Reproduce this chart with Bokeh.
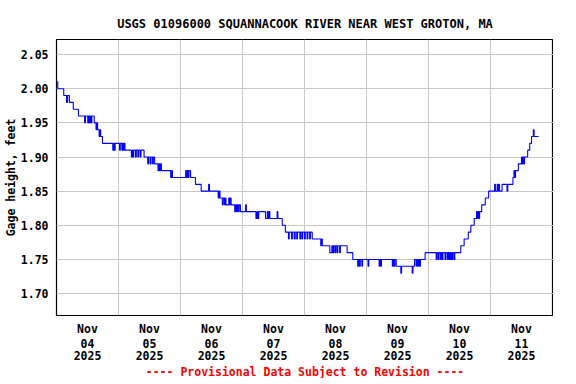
from bokeh.plotting import figure
from bokeh.models import FixedTicker, Title, NumeralTickFormatter, LinearAxis
from bokeh.embed import file_html
from bokeh.resources import INLINE

# Hours since 2025-11-04 00:00 at which the recorded gage height changes (step data)
hours = [
    0.0, 0.5, 2.8, 3.9, 4.3, 5.0, 6.5, 8.5,
    10.9, 11.2, 12.1, 12.4, 12.8, 13.1, 13.4, 13.7, 14.6, 15.3, 15.6, 15.9, 16.5, 16.8, 17.1, 17.8,
    21.8, 22.2, 22.4, 22.7, 24.4, 24.7, 25.3, 25.6, 25.9, 26.2, 26.5,
    29.0, 29.4, 29.6, 29.9, 30.6, 30.9, 31.5, 31.8, 32.4, 32.7, 33.9,
    35.3, 35.6, 36.2, 36.6, 37.2, 37.5, 38.0,
    39.3, 39.6, 39.9, 40.3, 40.6, 44.2, 44.6, 44.9,
    50.0, 50.3, 50.6, 51.0, 51.3, 51.9, 53.8, 56.0, 58.9, 59.2,
    62.6, 63.0, 63.3, 64.2, 64.5, 65.0, 65.3, 65.6, 66.7, 67.0, 67.3, 67.6,
    69.0, 69.3, 69.7, 70.0, 70.4, 70.7, 71.2, 73.2, 73.5,
    77.2, 77.6, 77.9, 78.3, 80.9, 81.6, 82.0, 82.3, 82.6, 85.4, 85.7, 87.4, 88.6,
    89.8, 90.1, 91.0, 91.3, 92.0, 92.4, 93.0, 93.3, 94.2, 94.5, 95.0, 95.3, 96.0, 96.3,
    97.0, 97.3, 98.0, 98.3, 99.0,
    102.3, 102.6, 102.9, 105.8, 106.6, 107.0, 107.3, 107.8, 108.1, 108.6, 108.9, 109.6, 109.9,
    112.5, 114.7, 116.6, 116.9, 117.3, 117.6, 118.2, 118.5, 120.6, 120.9,
    124.9, 125.2, 125.5, 125.8, 130.0, 130.3, 130.7, 131.0, 131.5,
    133.3, 133.6, 137.7, 138.0, 138.6, 139.2, 139.5, 139.9, 140.2, 140.6, 140.9, 142.7,
    147.0, 147.3, 147.8, 148.1, 148.7, 149.0, 149.3, 149.6, 150.4, 150.7, 151.3, 151.6,
    152.0, 152.3, 152.6, 152.9, 153.1, 153.4, 153.9, 154.2,
    156.5, 157.8, 159.4, 160.4, 161.7, 162.6, 162.9, 163.2, 163.5, 163.8, 164.6, 166.0, 167.3,
    169.6, 169.9, 170.6, 170.9, 171.2, 171.5, 172.5, 174.4, 174.7,
    176.7, 177.1, 177.4, 177.7, 178.8, 180.0, 180.3, 180.6, 180.9, 181.2,
    182.4, 183.2, 183.9, 184.6, 184.9, 186.6,
]
gage_ft = [
    2.01, 2.00, 1.99, 1.98, 1.99, 1.98, 1.97, 1.96,
    1.95, 1.96, 1.95, 1.96, 1.95, 1.96, 1.95, 1.96, 1.95, 1.94, 1.95, 1.94, 1.93, 1.94, 1.93, 1.92,
    1.91, 1.92, 1.91, 1.92, 1.91, 1.92, 1.91, 1.92, 1.91, 1.92, 1.91,
    1.90, 1.91, 1.90, 1.91, 1.90, 1.91, 1.90, 1.91, 1.90, 1.91, 1.90,
    1.89, 1.90, 1.89, 1.90, 1.89, 1.90, 1.89,
    1.88, 1.89, 1.88, 1.89, 1.88, 1.87, 1.88, 1.87,
    1.88, 1.87, 1.88, 1.87, 1.88, 1.87, 1.86, 1.85, 1.86, 1.85,
    1.84, 1.85, 1.84, 1.83, 1.84, 1.83, 1.84, 1.83, 1.84, 1.83, 1.84, 1.83,
    1.82, 1.83, 1.82, 1.83, 1.82, 1.83, 1.82, 1.83, 1.82,
    1.81, 1.82, 1.81, 1.82, 1.81, 1.82, 1.81, 1.82, 1.81, 1.82, 1.81, 1.80, 1.79,
    1.78, 1.79, 1.78, 1.79, 1.78, 1.79, 1.78, 1.79, 1.78, 1.79, 1.78, 1.79, 1.78, 1.79,
    1.78, 1.79, 1.78, 1.79, 1.78,
    1.77, 1.78, 1.77, 1.76, 1.77, 1.76, 1.77, 1.76, 1.77, 1.76, 1.77, 1.76, 1.77,
    1.76, 1.75, 1.74, 1.75, 1.74, 1.75, 1.74, 1.75, 1.74, 1.75,
    1.74, 1.75, 1.74, 1.75, 1.74, 1.75, 1.74, 1.75, 1.74,
    1.73, 1.74, 1.73, 1.74, 1.75, 1.74, 1.75, 1.74, 1.75, 1.74, 1.75, 1.76,
    1.75, 1.76, 1.75, 1.76, 1.75, 1.76, 1.75, 1.76, 1.75, 1.76, 1.75, 1.76,
    1.75, 1.76, 1.75, 1.76, 1.75, 1.76, 1.75, 1.76,
    1.77, 1.78, 1.79, 1.80, 1.81, 1.82, 1.81, 1.82, 1.81, 1.82, 1.83, 1.84, 1.85,
    1.86, 1.85, 1.86, 1.85, 1.86, 1.85, 1.86, 1.85, 1.86,
    1.87, 1.88, 1.87, 1.88, 1.89, 1.90, 1.89, 1.90, 1.89, 1.90,
    1.91, 1.92, 1.93, 1.94, 1.93, 1.93,
]

x_tick_hours = [12, 36, 60, 84, 108, 132, 156, 180]
x_tick_month = ["Nov", "Nov", "Nov", "Nov", "Nov", "Nov", "Nov", "Nov"]
x_tick_day = ["04", "05", "06", "07", "08", "09", "10", "11"]
x_tick_year = ["2025", "2025", "2025", "2025", "2025", "2025", "2025", "2025"]
day_grid_hours = [24, 48, 72, 96, 120, 144, 168]
y_ticks = [1.70, 1.75, 1.80, 1.85, 1.90, 1.95, 2.00, 2.05]

title_text = "USGS 01096000 SQUANNACOOK RIVER NEAR WEST GROTON, MA"
note_text = "---- Provisional Data Subject to Revision ----"
y_label = "Gage height, feet"

FONT = "DejaVu Sans Mono"
FS = "11.5px"

p = figure(frame_width=497, frame_height=276, x_range=(0, 192.4), y_range=(1.668, 2.072),
           output_backend="svg", toolbar_location=None,
           min_border_left=0, min_border_right=0, min_border_top=0, min_border_bottom=0)

p.step(hours, gage_ft, mode="after", line_color="#0000ff", line_width=1.1)

p.background_fill_color = "white"
p.border_fill_color = "white"
p.outline_line_color = "black"
p.outline_line_width = 1.2

# top spacer (outermost), then the real title next to the frame
p.title.text = " "
p.title.text_font_size = "3px"
p.title.standoff = 0
main_title = Title(text=title_text, align="center", text_font=FONT, text_font_size="12px",
                   text_font_style="bold", text_color="black", standoff=18)
p.add_layout(main_title, "above")


def style_x(ax, labels, standoff):
    ax.ticker = FixedTicker(ticks=x_tick_hours)
    ax.major_label_overrides = {h: lab for h, lab in zip(x_tick_hours, labels)}
    ax.major_tick_line_color = None
    ax.minor_tick_line_color = None
    ax.major_tick_out = 0
    ax.major_tick_in = 0
    ax.minor_tick_out = 0
    ax.axis_line_color = None
    ax.major_label_standoff = standoff
    ax.major_label_text_font = FONT
    ax.major_label_text_font_size = FS
    ax.major_label_text_font_style = "bold"
    ax.major_label_text_color = "black"


style_x(p.xaxis[0], x_tick_month, 6)
ax_day = LinearAxis()
style_x(ax_day, x_tick_day, 0)
p.add_layout(ax_day, "below")
ax_year = LinearAxis()
style_x(ax_year, x_tick_year, 0)
p.add_layout(ax_year, "below")

ya = p.yaxis[0]
ya.ticker = FixedTicker(ticks=y_ticks)
ya.formatter = NumeralTickFormatter(format="0.00")
ya.major_tick_line_color = None
ya.minor_tick_line_color = None
ya.major_tick_out = 0
ya.major_tick_in = 0
ya.minor_tick_out = 0
ya.axis_line_color = None
ya.major_label_standoff = 8
ya.major_label_text_font = FONT
ya.major_label_text_font_size = FS
ya.major_label_text_font_style = "bold"
ya.major_label_text_color = "black"
ya.axis_label = y_label
ya.axis_label_standoff = 0
ya.axis_label_text_font = FONT
ya.axis_label_text_font_size = FS
ya.axis_label_text_font_style = "bold"
ya.axis_label_text_color = "black"

p.xgrid.ticker = FixedTicker(ticks=day_grid_hours)
p.ygrid.ticker = FixedTicker(ticks=y_ticks)
p.grid.grid_line_color = "#c8c8c8"
p.grid.grid_line_width = 1

note = Title(text=note_text, align="center", text_color="red", text_font=FONT,
             text_font_size=FS, text_font_style="bold", standoff=0)
p.add_layout(note, "below")

open("out.html", "w").write(file_html(p, INLINE))
